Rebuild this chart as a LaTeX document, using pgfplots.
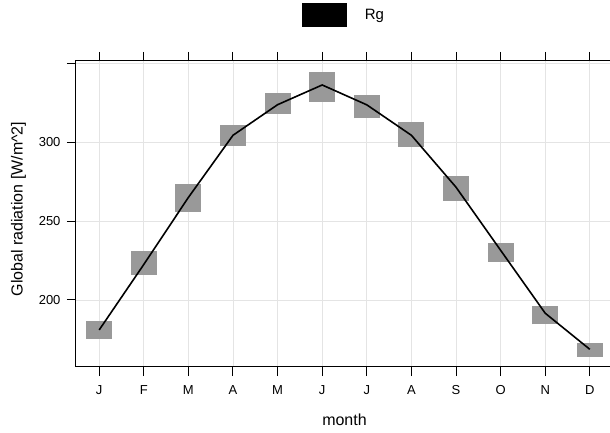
\documentclass[border=0pt]{standalone}
\usepackage{fontspec}
\setmainfont{Liberation Sans}
\usepackage{pgfplots}
\usepackage{pgfplotstable}
\pgfplotsset{compat=1.18}
\definecolor{boxgray}{RGB}{153,153,153}
\definecolor{gridgray}{RGB}{228,228,228}
\pgfplotstableread{
x lo h
1 175.3 11.4
2 215.9 15.4
3 256.0 17.4
4 297.3 13.7
5 317.8 13.3
6 325.7 18.7
7 315.2 14.8
8 297.0 16.1
9 262.8 16.0
10 224.3 11.8
11 184.6 11.6
12 164.0 8.9
}\boxdata
\pgfplotstableread{
x y
1 181.0
2 222.5
3 265.0
4 304.4
5 323.8
6 336.3
7 323.7
8 304.4
9 271.5
10 231.5
11 191.6
12 168.7
}\linedata
\begin{document}
\begin{tikzpicture}
\useasboundingbox (-76pt,-66pt) rectangle (534pt,367pt);
\clip (-76pt,-66pt) rectangle (534pt,367pt);
\begin{axis}[
 at={(0pt,0pt)}, anchor=south west,
 width=537pt, height=306pt, scale only axis,
 xmin=0.48, xmax=12.52, ymin=157.5, ymax=351.5,
 xtick={1,...,12}, xticklabels={J,F,M,A,M,J,J,A,S,O,N,D},
 ytick={200,250,300,350}, yticklabels={200,250,300,{}},
 tick align=outside, major tick length=9pt,
 grid=major, grid style={gridgray, line width=0.8pt},
 axis line style={line width=1pt},
 every tick/.style={black, line width=1pt},
 tick label style={font=\fontsize{13}{15}\selectfont},
 /pgf/number format/assume math mode=true,
 yticklabel style={xshift=-3pt},
 xticklabel style={yshift=-6pt},
 xlabel={month}, ylabel={Global radiation [W/m\textasciicircum 2]},
 label style={font=\fontsize{16}{19}\selectfont},
 xlabel style={at={(axis description cs:0.5,-0.173)}, anchor=center},
 ylabel style={at={(axis description cs:-0.107,0.516)}, anchor=center},
 legend style={at={(axis description cs:0.420,1.150)}, anchor=west, draw=none, fill=none, inner sep=0pt, column sep=18pt, font=\fontsize{15}{18}\selectfont, nodes={inner sep=0pt}},
]
\addplot[forget plot, draw=none, mark=none, error bars/.cd, y dir=plus, y explicit, error mark=none, error bar style={draw=boxgray, line width=26pt}] table[x=x, y=lo, y error=h] {\boxdata};
\addplot[black, line width=1.6pt, mark=none, legend image code/.code={\fill[black] (0pt,-11pt) rectangle (43.5pt,11pt);}] table[x=x, y=y] {\linedata};
\addlegendentry{Rg}
\end{axis}
\end{tikzpicture}
\end{document}
